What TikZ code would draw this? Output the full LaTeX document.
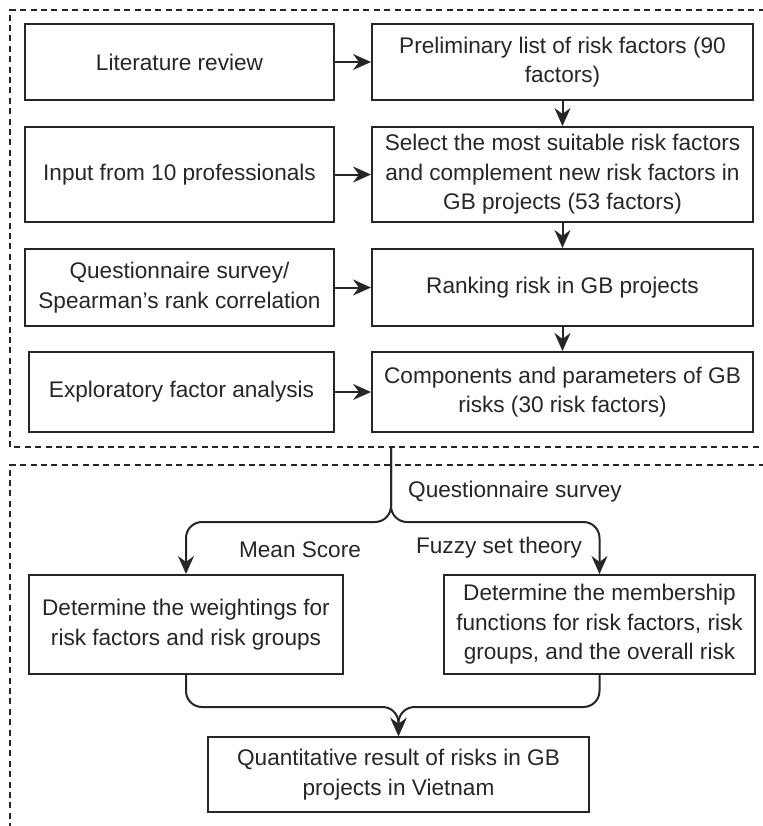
\documentclass[tikz,border=0pt]{standalone}
\usepackage{fontspec}
\setmainfont{Liberation Sans}
\usetikzlibrary{positioning, arrows.meta}

\begin{document}
\begin{tikzpicture}[x=0.5pt, y=-0.5pt,
    every node/.style={font=\fontsize{11.3}{14.75}\selectfont, text=black!85},
    stepbox/.style={draw=black!85, line width=1pt, align=center, inner sep=0pt},
    frame/.style={draw=black!85, line width=0.75pt, dash pattern=on 3pt off 2.2pt},
    link/.style={draw=black!85, line width=1pt, -{Stealth[length=9pt, width=8pt, inset=3pt]}}]
    \useasboundingbox (0,0) rectangle (763,826);
    \draw[frame] (775,10) -- (10,10) -- (10,447) -- (775,447);
    \draw[frame] (775,465) -- (10,465) -- (10,840);

    \node[stepbox, minimum width=154.5pt, minimum height=38pt] (lit) at (179.5,62) {Literature review};
    \node[stepbox, minimum width=190.5pt, minimum height=38pt] (prelim) at (562.5,62) {Preliminary list of risk factors (90\\factors)};
    \node[stepbox, minimum width=154.5pt, minimum height=47.5pt] (input) at (179.5,174.5) {Input from 10 professionals};
    \node[stepbox, minimum width=190.5pt, minimum height=47.5pt] (select) at (562.5,174.5) {Select the most suitable risk factors\\and complement new risk factors in\\GB projects (53 factors)};
    \node[stepbox, minimum width=154.5pt, minimum height=38.5pt] (quest) at (179.5,287.5) {Questionnaire survey/\\Spearman’s rank correlation};
    \node[stepbox, minimum width=190.5pt, minimum height=38.5pt] (rank) at (562.5,287.5) {Ranking risk in GB projects};
    \node[stepbox, minimum width=152.5pt, minimum height=40pt] (efa) at (181.5,392) {Exploratory factor analysis};
    \node[stepbox, minimum width=190.5pt, minimum height=40pt] (comp) at (562.5,392) {Components and parameters of GB\\risks (30 risk factors)};

    \node[stepbox, minimum width=157pt, minimum height=49.5pt] (weight) at (186,624.5) {Determine the weightings for\\risk factors and risk groups};
    \node[stepbox, minimum width=155.5pt, minimum height=49.5pt] (member) at (599.5,624.5) {Determine the membership\\functions for risk factors, risk\\groups, and the overall risk};
    \node[stepbox, minimum width=190.5pt, minimum height=37.5pt] (result) at (398.5,774.5) {Quantitative result of risks in GB\\projects in Vietnam};

    \coordinate (split) at (391,447);
    \coordinate (fork) at (391,522);
    \coordinate (join) at (398.5,707);
    \node (qs) at (515,492) {Questionnaire survey};
    \node (ms) at (300,550) {Mean Score};
    \node (fst) at (499,548) {Fuzzy set theory};

    \draw[link] (lit) -- (prelim);
    \draw[link] (input) -- (select);
    \draw[link] (quest) -- (rank);
    \draw[link] (efa) -- (comp);
    \draw[link] (prelim) -- (select);
    \draw[link] (select) -- (rank);
    \draw[link] (rank) -- (comp);
    \draw[link, rounded corners=8pt] (split) -- (fork) -| (weight.north);
    \draw[link, rounded corners=8pt] (split) -- (fork) -| (member.north);
    \draw[link, rounded corners=8pt] (weight.south) |- (join) -- (result.north);
    \draw[link, rounded corners=8pt] (member.south) |- (join) -- (result.north);
\end{tikzpicture}
\end{document}
